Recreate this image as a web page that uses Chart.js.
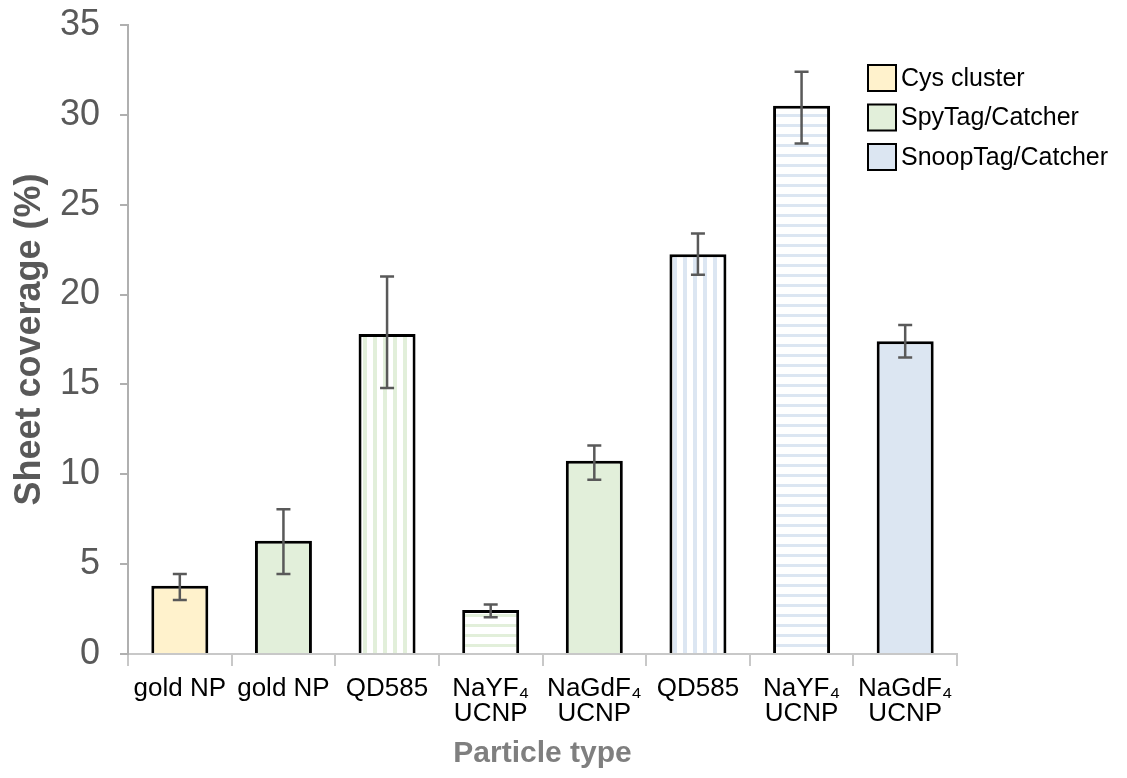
<!DOCTYPE html>
<html>
<head>
<meta charset="utf-8">
<script src="https://cdn.jsdelivr.net/npm/chart.js@4.4.1/dist/chart.umd.min.js"></script>
<style>
  html, body { margin: 0; padding: 0; background: #fff; }
  #wrap { width: 1127px; height: 778px; }
</style>
</head>
<body>
<div id="wrap"><canvas id="chart"></canvas></div>
<script>
// categories (x tick labels, two lines where needed)
const categories = [
  ['gold NP'], ['gold NP'], ['QD585'], ['NaYF\u2084', 'UCNP'],
  ['NaGdF\u2084', 'UCNP'], ['QD585'], ['NaYF\u2084', 'UCNP'], ['NaGdF\u2084', 'UCNP']
];

// mean sheet coverage (%) per bar, split by conjugation chemistry
const cysCluster   = [3.8, null, null, null, null, null, null, null];
const spyCatcher   = [null, 6.3, 17.8, 2.45, 10.75, null, null, null];
const snoopCatcher = [null, null, null, null, null, 22.25, 30.5, 17.4];

// error bar limits
const errHigh = [4.45, 8.05, 21.0, 2.75, 11.6, 23.4, 32.4, 18.3];
const errLow  = [3.0, 4.45, 14.8, 2.05, 9.7, 21.1, 28.4, 16.5];

// fill style per bar: solid, vertical stripes or horizontal stripes
const fillStyle = ['solid', 'solid', 'vstripe', 'hstripe', 'solid', 'vstripe', 'hstripe', 'solid'];

const seriesNames = ['Cys cluster', 'SpyTag/Catcher', 'SnoopTag/Catcher'];
const seriesColors = ['#fff2cc', '#e2efda', '#dce6f2'];

const FONT = '"Liberation Sans", Arial, sans-serif';

// little canvas patterns for the striped bars
function makeStripes(color, vertical) {
  const c = document.createElement('canvas');
  c.width = 10; c.height = 10;
  const g = c.getContext('2d');
  g.fillStyle = '#ffffff';
  g.fillRect(0, 0, 10, 10);
  g.fillStyle = color;
  if (vertical) g.fillRect(3, 0, 4, 10);
  else g.fillRect(0, 4, 10, 3);
  return g.createPattern(c, 'repeat');
}

function barFills(color) {
  return fillStyle.map(s => {
    if (s === 'vstripe') return makeStripes(color, true);
    if (s === 'hstripe') return makeStripes(color, false);
    return color;
  });
}

const seriesData = [cysCluster, spyCatcher, snoopCatcher];

const datasets = seriesData.map((d, i) => ({
  label: seriesNames[i],
  data: d,
  backgroundColor: barFills(seriesColors[i]),
  borderColor: '#000000',
  borderWidth: 3,
  grouped: false,
  categoryPercentage: 1.0,
  barPercentage: 0.55
}));

// error bars drawn on top of the bars, using the y scale
const errorBars = {
  id: 'errorBars',
  afterDatasetsDraw(chart) {
    const ctx = chart.ctx;
    const y = chart.scales.y;
    ctx.save();
    ctx.strokeStyle = '#595959';
    ctx.lineWidth = 2.5;
    chart.data.datasets.forEach((ds, di) => {
      const meta = chart.getDatasetMeta(di);
      meta.data.forEach((bar, i) => {
        if (ds.data[i] == null) return;
        const x = bar.x;
        const yh = y.getPixelForValue(errHigh[i]);
        const yl = y.getPixelForValue(errLow[i]);
        ctx.beginPath();
        ctx.moveTo(x, yh); ctx.lineTo(x, yl);
        ctx.moveTo(x - 7, yh); ctx.lineTo(x + 7, yh);
        ctx.moveTo(x - 7, yl); ctx.lineTo(x + 7, yl);
        ctx.stroke();
      });
    });
    ctx.restore();
  }
};

// legend in the top right corner, outside the plot area
const boxLegend = {
  id: 'boxLegend',
  afterDraw(chart) {
    const ctx = chart.ctx;
    ctx.save();
    ctx.font = '25px ' + FONT;
    ctx.textBaseline = 'middle';
    chart.data.datasets.forEach((ds, i) => {
      const cy = 78 + i * 39.5;
      ctx.fillStyle = seriesColors[i];
      ctx.fillRect(868, cy - 13, 28, 26);
      ctx.strokeStyle = '#000';
      ctx.lineWidth = 2;
      ctx.strokeRect(868, cy - 13, 28, 26);
      ctx.fillStyle = '#000';
      ctx.fillText(ds.label, 901, cy + 1);
    });
    ctx.restore();
  }
};

new Chart(document.getElementById('chart'), {
  type: 'bar',
  data: { labels: categories, datasets: datasets },
  options: {
    responsive: true,
    maintainAspectRatio: false,
    animation: false,
    layout: { padding: { left: 6, top: 25, right: 170, bottom: 4 } },
    plugins: {
      legend: { display: false },
      tooltip: { enabled: false }
    },
    scales: {
      x: {
        afterFit(scale) { scale.height = 120; },
        grid: {
          offset: true,
          drawOnChartArea: false,
          drawTicks: true,
          tickLength: 12,
          color: '#c8c8c8',
          lineWidth: 2
        },
        border: { color: '#c8c8c8', width: 2 },
        ticks: {
          color: '#000',
          font: { family: FONT, size: 26, lineHeight: 0.97 },
          padding: 10,
          maxRotation: 0,
          autoSkip: false
        },
        title: {
          display: true,
          text: 'Particle type',
          color: '#7f7f7f',
          font: { family: FONT, size: 30, weight: 'bold' },
          padding: { top: 8, bottom: 2 }
        }
      },
      y: {
        min: 0,
        max: 35,
        afterFit(scale) {
          scale.width = 122;
          scale.paddingTop = 0;
          scale.paddingBottom = 0;
        },
        ticks: {
          stepSize: 5,
          color: '#595959',
          font: { family: FONT, size: 36 },
          padding: 20
        },
        grid: {
          drawOnChartArea: false,
          drawTicks: true,
          tickLength: 8,
          color: '#b0b0b0',
          lineWidth: 2
        },
        border: { color: '#b0b0b0', width: 2 },
        title: {
          display: true,
          text: 'Sheet coverage (%)',
          color: '#595959',
          font: { family: FONT, size: 36, weight: 'bold' },
          padding: { top: 2, bottom: 0 }
        }
      }
    }
  },
  plugins: [errorBars, boxLegend]
});
</script>
</body>
</html>
